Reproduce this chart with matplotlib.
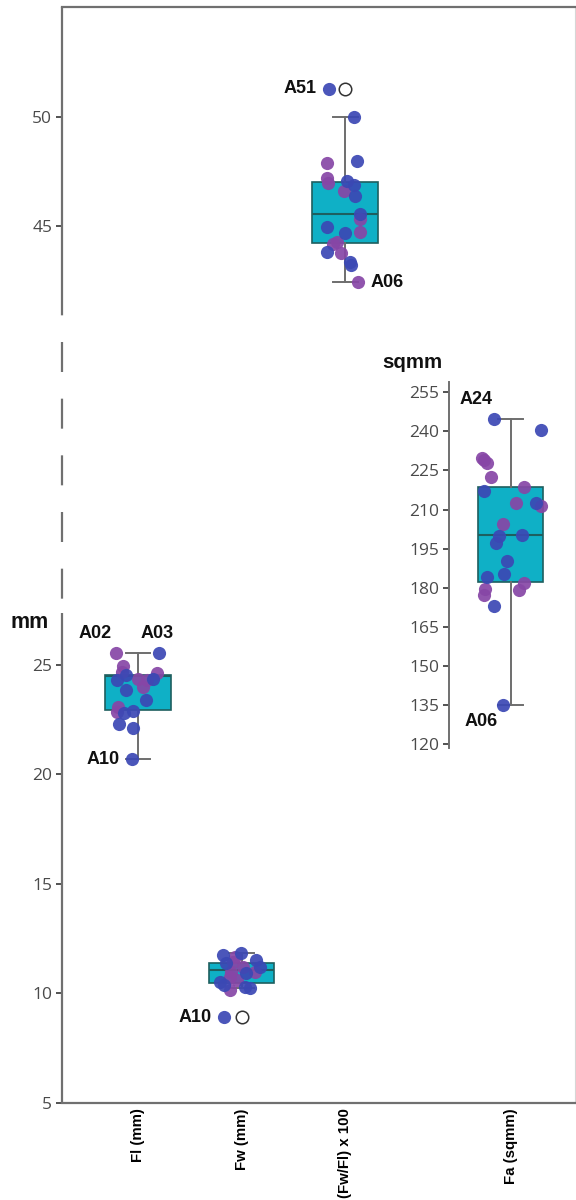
import matplotlib
matplotlib.use('Agg')
import matplotlib.pyplot as plt

# categories and positions on the shared x axis
cats = ['Fl (mm)', 'Fw (mm)', '(Fw/Fl) x 100', 'Fa (sqmm)']
xpos = [1, 2, 3, 4.6]

# box statistics: low whisker, q1, median, q3, high whisker
fl_box = [20.69, 22.93, 24.48, 24.53, 25.53]
fw_box = [10.25, 10.47, 11.07, 11.39, 11.84]
ratio_box = [42.45, 44.23, 45.56, 47.02, 50.0]
fa_box = [135.0, 182.3, 200.2, 218.5, 244.8]
fw_fliers = [8.92]
ratio_fliers = [51.26]

# individual specimens (value, jitter) - blue and purple groups
fl_blue = [25.53, 24.53, 24.3, 24.34, 23.84, 23.4, 22.8, 22.9, 22.3, 22.1, 20.69]
fl_blue_j = [0.2, -0.115, -0.2, 0.145, -0.115, 0.08, -0.135, -0.05, -0.18, -0.05, -0.06]
fl_purple = [25.53, 24.94, 24.66, 24.6, 24.34, 24.3, 23.98, 23.07, 22.84]
fl_purple_j = [-0.21, -0.145, -0.155, 0.18, 0.0, 0.09, 0.05, -0.19, -0.2]

fw_blue = [11.75, 11.84, 11.39, 11.52, 11.2, 10.93, 10.52, 10.38, 10.29, 10.25, 8.92]
fw_blue_j = [-0.18, -0.01, -0.155, 0.135, 0.18, 0.04, -0.21, -0.165, 0.03, 0.08, -0.165]
fw_purple = [11.66, 11.43, 11.2, 10.98, 10.98, 10.75, 10.15, 10.6]
fw_purple_j = [-0.06, -0.085, 0.01, -0.105, 0.125, -0.115, -0.115, -0.04]

ratio_blue = [51.26, 50.0, 47.97, 47.06, 46.88, 46.38, 45.56, 44.96, 44.69, 43.82, 43.37, 43.23]
ratio_blue_j = [-0.155, 0.09, 0.115, 0.02, 0.09, 0.1, 0.145, -0.175, 0.0, -0.175, 0.05, 0.06]
ratio_purple = [47.88, 47.2, 46.97, 46.6, 45.33, 44.74, 44.28, 44.19, 43.78, 42.45]
ratio_purple_j = [-0.175, -0.175, -0.165, -0.01, 0.145, 0.145, -0.08, -0.115, -0.04, 0.125]

fa_blue = [244.8, 240.5, 217.2, 212.6, 199.8, 197.3, 200.2, 190.4, 184.2, 185.1, 173.1, 135.0]
fa_blue_j = [-0.16, 0.29, -0.26, 0.24, -0.11, -0.145, 0.11, -0.04, -0.23, -0.07, -0.165, -0.075]
fa_purple = [229.7, 229.0, 227.7, 222.6, 218.5, 212.4, 211.4, 204.5, 181.9, 179.1, 179.4, 177.2]
fa_purple_j = [-0.28, -0.26, -0.23, -0.19, 0.125, 0.05, 0.29, -0.08, 0.13, 0.08, -0.25, -0.26]

# labelled specimens: (name, category index, value, jitter)
labels_main = [('A02', 0, 25.53, -0.21), ('A03', 0, 25.53, 0.2), ('A10', 0, 20.69, -0.06),
               ('A10', 1, 8.92, -0.165), ('A51', 2, 51.26, -0.155), ('A06', 2, 42.45, 0.125)]
labels_fa = [('A24', 244.8, -0.16), ('A06', 135.0, -0.075)]

BLUE = '#3b48b4'
PURPLE = '#8746a6'
BOXC = '#0fb0c6'
EDGE = '#1e5f5f'
GREY = '#6e6e6e'
SPINE = '#707070'
LAB = ['Liberation Sans', 'DejaVu Sans']

plt.rcParams['font.family'] = ['Open Sans', 'DejaVu Sans']

fig = plt.figure(figsize=(5.76, 12), dpi=100)
ax = fig.add_axes([62 / 576, 97 / 1200, 513 / 576, 1096 / 1200])
ax.set_xlim(0.266, 5.22)
ax.set_ylim(5, 55)


def stats(b, x_fl=None):
    return dict(whislo=b[0], q1=b[1], med=b[2], q3=b[3], whishi=b[4],
                fliers=x_fl if x_fl else [])


def draw_box(a, b, x, fl=None):
    a.bxp([stats(b, fl)], positions=[x], widths=0.63, capwidths=0.24,
          patch_artist=True, manage_ticks=False,
          boxprops=dict(facecolor=BOXC, edgecolor=EDGE, linewidth=1.2),
          medianprops=dict(color=EDGE, linewidth=1.5),
          whiskerprops=dict(color=GREY, linewidth=1.4),
          capprops=dict(color=GREY, linewidth=1.4),
          flierprops=dict(marker='o', markerfacecolor='white', markeredgecolor='#333333',
                          markersize=9, markeredgewidth=1.1),
          zorder=1)


def dots(a, x, vals, jit, col):
    a.scatter([x + j for j in jit], vals, s=90, color=col, alpha=0.92,
              linewidths=0, zorder=3)


draw_box(ax, fl_box, xpos[0])
draw_box(ax, fw_box, xpos[1], fw_fliers)
draw_box(ax, ratio_box, xpos[2], ratio_fliers)
dots(ax, xpos[0], fl_purple, fl_purple_j, PURPLE)
dots(ax, xpos[0], fl_blue, fl_blue_j, BLUE)
dots(ax, xpos[1], fw_purple, fw_purple_j, PURPLE)
dots(ax, xpos[1], fw_blue, fw_blue_j, BLUE)
dots(ax, xpos[2], ratio_purple, ratio_purple_j, PURPLE)
dots(ax, xpos[2], ratio_blue, ratio_blue_j, BLUE)

# spines: left one is broken, drawn by hand
ax.spines['left'].set_visible(False)
for s in ['top', 'bottom']:
    ax.spines[s].set_color(SPINE)
    ax.spines[s].set_linewidth(1.6)
ax.spines['right'].set_color('#d6d6d6')
ax.spines['right'].set_linewidth(0.8)
tr = ax.get_yaxis_transform()
ax.plot([0, 0], [5, 27.35], color=SPINE, lw=1.6, transform=tr, clip_on=False,
        solid_capstyle='butt')
ax.plot([0, 0], [41.1, 55], color=SPINE, lw=1.6, transform=tr, clip_on=False,
        solid_capstyle='butt')
ax.plot([0, 0], [41.1, 27.35], color=SPINE, lw=1.6, transform=tr, clip_on=False,
        linestyle=(12.0, (13.5, 12.0)), dash_capstyle='butt')

ax.set_yticks([5, 10, 15, 20, 25, 45, 50])
ax.tick_params(axis='y', length=4, width=1.3, color='#444444', labelsize=12.5,
               labelcolor='#4a4a4a', pad=3)
ax.set_xticks(xpos)
ax.set_xticklabels(cats, rotation=90, fontsize=10.8, fontweight='bold',
                   family=LAB, va='top')
ax.tick_params(axis='x', length=0, pad=4)

for name, ci, v, j in labels_main:
    if name == 'A06':
        off, ha, va = (9, 0), 'left', 'center'
    elif name == 'A02':
        off, ha, va = (-3, 8), 'right', 'bottom'
    elif name == 'A03':
        off, ha, va = (-1, 8), 'center', 'bottom'
    else:
        off, ha, va = (-9, 0), 'right', 'center'
    ax.annotate(name, (xpos[ci] + j, v), xytext=off, textcoords='offset points',
                ha=ha, va=va, fontsize=13, fontweight='bold', family=LAB, color='#111111')

fig.text(11 / 576, 1 - 623 / 1200, 'mm', fontsize=15.5, fontweight='bold', family=LAB,
         va='center', ha='left', color='#111111')

# inner axis for the area values
ax2 = fig.add_axes([62 / 576, 1 - 747.9 / 1200, 513 / 576, (747.9 - 381.9) / 1200], sharex=ax)
ax2.patch.set_alpha(0)
ax2.set_ylim(118.5, 259)
for s in ['top', 'right', 'bottom']:
    ax2.spines[s].set_visible(False)
ax2.spines['left'].set_position(('data', 4.0))
ax2.spines['left'].set_color(SPINE)
ax2.spines['left'].set_linewidth(1.4)
ax2.set_yticks(list(range(120, 256, 15)))
ax2.tick_params(axis='y', length=4, width=1.3, color='#444444', labelsize=12.5,
                labelcolor='#4a4a4a', pad=3)
ax2.tick_params(axis='x', which='both', bottom=False, labelbottom=False)
draw_box(ax2, fa_box, xpos[3])
dots(ax2, xpos[3], fa_purple, fa_purple_j, PURPLE)
dots(ax2, xpos[3], fa_blue, fa_blue_j, BLUE)
ax2.annotate(labels_fa[0][0], (xpos[3] + labels_fa[0][2], labels_fa[0][1]), xytext=(-1, 8),
             textcoords='offset points', ha='right', va='bottom', fontsize=13,
             fontweight='bold', family=LAB, color='#111111')
ax2.annotate(labels_fa[1][0], (xpos[3] + labels_fa[1][2], labels_fa[1][1]), xytext=(-4, -6),
             textcoords='offset points', ha='right', va='top', fontsize=13,
             fontweight='bold', family=LAB, color='#111111')
fig.text(382 / 576, 1 - 363 / 1200, 'sqmm', fontsize=14.7, fontweight='bold', family=LAB,
         va='center', ha='left', color='#111111')

fig.savefig('out.png', dpi=100)
